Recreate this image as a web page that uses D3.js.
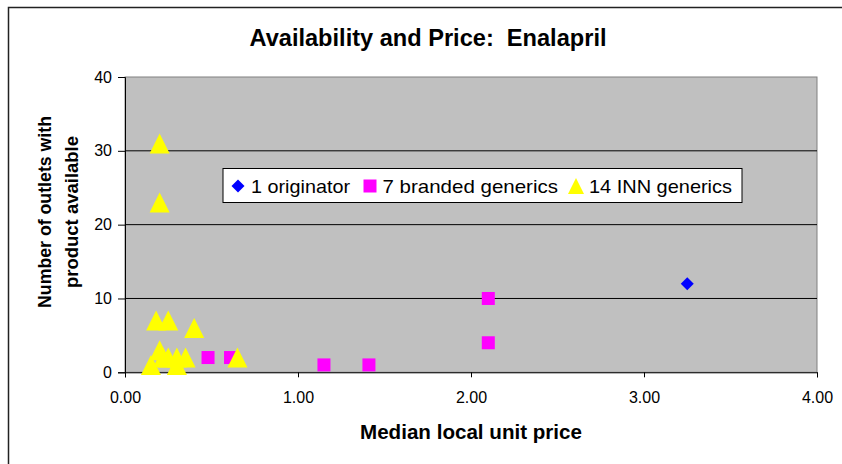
<!DOCTYPE html>
<html><head><meta charset="utf-8">
<script src="https://cdn.jsdelivr.net/npm/d3@7"></script>
<style>body{margin:0;background:#fff}svg{display:block;font-family:Arial,"Liberation Sans",sans-serif}</style>
</head><body><svg id="c" width="842" height="464"></svg>
<script>
const originatorPrice = [3.25];
const originatorOutlets = [12];
const brandedPrice = [2.10, 2.10, 1.15, 1.41, 0.48, 0.61];
const brandedOutlets = [10, 4, 1, 1, 2, 2];
const innPrice = [0.20, 0.20, 0.18, 0.25, 0.40, 0.20, 0.25, 0.30, 0.35, 0.65, 0.15, 0.30, 0.22];
const innOutlets = [31, 23, 7, 7, 6, 3, 2, 2, 2, 2, 1, 1, 2];
const xTicks = [0, 1, 2, 3, 4];
const yTicks = [0, 10, 20, 30, 40];
const legendLabels = ["1 originator", "7 branded generics", "14 INN generics"];

const svg = d3.select("#c");
const L = 125, R = 817, T = 77, B = 372.3;
const x = d3.scaleLinear().domain([0, 4]).range([L, R]);
const y = d3.scaleLinear().domain([0, 40]).range([B, T]);

const triType = { draw(ctx, size) { const h = Math.sqrt(size); ctx.moveTo(0, -h / 2); ctx.lineTo(h / 2, h / 2); ctx.lineTo(-h / 2, h / 2); ctx.closePath(); } };
const diaType = { draw(ctx, size) { const h = Math.sqrt(size) / 2; ctx.moveTo(0, -h); ctx.lineTo(h, 0); ctx.lineTo(0, h); ctx.lineTo(-h, 0); ctx.closePath(); } };

svg.append("rect").attr("x", 8.5).attr("y", 7.5).attr("width", 900).attr("height", 500)
  .attr("fill", "#fff").attr("stroke", "#222").attr("stroke-width", 1.5);

svg.append("rect").attr("x", L).attr("y", T).attr("width", R - L).attr("height", B - T)
  .attr("fill", "#C0C0C0").attr("stroke", "#808080").attr("stroke-width", 1);

svg.append("g").selectAll("line").data(yTicks.filter(d => d > 0 && d < 40)).join("line")
  .attr("x1", L).attr("x2", R).attr("y1", d => y(d)).attr("y2", d => y(d))
  .attr("stroke", "#000").attr("stroke-width", 1);

const xAxis = svg.append("g").attr("transform", `translate(0,${B})`)
  .call(d3.axisBottom(x).tickValues(xTicks).tickFormat(d3.format(".2f")).tickSize(5).tickPadding(14));
const yAxis = svg.append("g").attr("transform", `translate(${L},0)`)
  .call(d3.axisLeft(y).tickValues(yTicks).tickSize(7).tickPadding(6));
[xAxis, yAxis].forEach(g => {
  g.select(".domain").attr("stroke", "#000");
  g.selectAll(".tick line").attr("stroke", "#000");
  g.selectAll("text").attr("font-size", 16).attr("fill", "#000").attr("font-family", "Arial, Liberation Sans, sans-serif");
});

svg.append("g").selectAll("path").data(originatorPrice.map((p, i) => [p, originatorOutlets[i]])).join("path")
  .attr("d", d3.symbol().type(diaType).size(169)).attr("transform", d => `translate(${x(d[0])},${y(d[1])})`).attr("fill", "#0000FF");

svg.append("g").selectAll("rect").data(brandedPrice.map((p, i) => [p, brandedOutlets[i]])).join("rect")
  .attr("x", d => x(d[0]) - 6.5).attr("y", d => y(d[1]) - 6.5).attr("width", 13).attr("height", 13)
  .attr("fill", "#FF00FF");

svg.append("g").selectAll("path").data(innPrice.map((p, i) => [p, innOutlets[i]])).join("path")
  .attr("d", d3.symbol().type(triType).size(400)).attr("transform", d => `translate(${x(d[0])},${y(d[1])})`).attr("fill", "#FFFF00");

// legend
const lg = svg.append("g");
lg.append("rect").attr("x", 223).attr("y", 168.5).attr("width", 519).attr("height", 34)
  .attr("fill", "#fff").attr("stroke", "#000").attr("stroke-width", 1);
const ly = 186;
const fit = "spacingAndGlyphs";
lg.append("path").attr("d", d3.symbol().type(diaType).size(169)).attr("transform", `translate(238,${ly})`).attr("fill", "#0000FF");
lg.append("text").attr("x", 251).attr("y", ly + 6.5).attr("font-size", 19).attr("textLength", 99).attr("lengthAdjust", fit).text(legendLabels[0]);
lg.append("rect").attr("x", 363.5).attr("y", ly - 6.5).attr("width", 13).attr("height", 13).attr("fill", "#FF00FF");
lg.append("text").attr("x", 382.5).attr("y", ly + 6.5).attr("font-size", 19).attr("textLength", 175.5).attr("lengthAdjust", fit).text(legendLabels[1]);
lg.append("path").attr("d", d3.symbol().type(triType).size(256)).attr("transform", `translate(576,${ly})`).attr("fill", "#FFFF00");
lg.append("text").attr("x", 589).attr("y", ly + 6.5).attr("font-size", 19).attr("textLength", 143).attr("lengthAdjust", fit).text(legendLabels[2]);

svg.append("text").attr("x", 249.5).attr("y", 46).attr("font-size", 23).attr("font-weight", "bold")
  .attr("textLength", 357).attr("lengthAdjust", fit).style("white-space", "pre")
  .text("Availability and Price:  Enalapril");
svg.append("text").attr("x", 360).attr("y", 439).attr("font-size", 20).attr("font-weight", "bold")
  .attr("textLength", 222).attr("lengthAdjust", fit).text("Median local unit price");
const yl = svg.append("text").attr("transform", "translate(0,212) rotate(-90)")
  .attr("text-anchor", "middle").attr("font-size", 19).attr("font-weight", "bold");
yl.append("tspan").attr("x", 0).attr("y", 51).attr("textLength", 192).attr("lengthAdjust", fit).text("Number of outlets with");
yl.append("tspan").attr("x", 0).attr("y", 78).attr("textLength", 152).attr("lengthAdjust", fit).text("product available");
</script></body></html>
